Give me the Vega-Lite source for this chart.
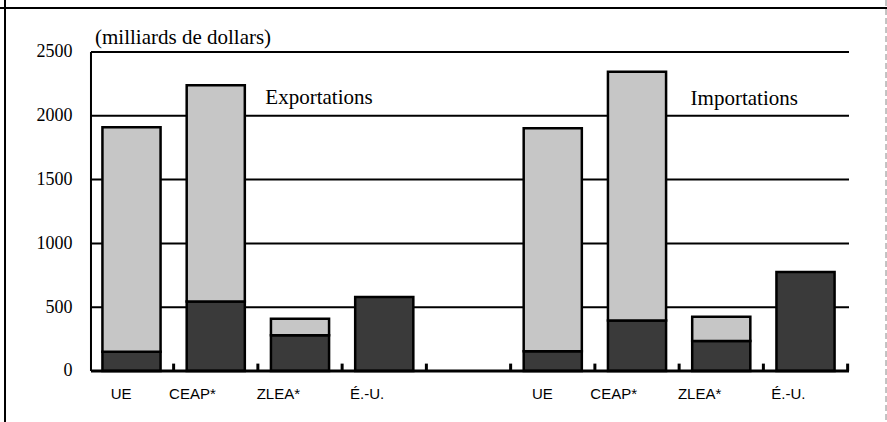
{
  "$schema": "https://vega.github.io/schema/vega-lite/v6.json",
  "width": 887,
  "height": 422,
  "padding": 0,
  "autosize": {"type": "none"},
  "background": "white",
  "config": {
    "view": {"stroke": null},
    "axis": {"labelColor": "black", "tickColor": "black", "domainColor": "black"},
    "rule": {"color": "black", "strokeWidth": 2}
  },
  "datasets": {
    "bars": [
      {"k": "UE|e", "s": "bas", "v": 150},
      {"k": "UE|e", "s": "haut", "v": 1760},
      {"k": "CEAP*|e", "s": "bas", "v": 545},
      {"k": "CEAP*|e", "s": "haut", "v": 1695},
      {"k": "ZLEA*|e", "s": "bas", "v": 280},
      {"k": "ZLEA*|e", "s": "haut", "v": 130},
      {"k": "É.-U.|e", "s": "bas", "v": 580},
      {"k": "UE|i", "s": "bas", "v": 155},
      {"k": "UE|i", "s": "haut", "v": 1748},
      {"k": "CEAP*|i", "s": "bas", "v": 395},
      {"k": "CEAP*|i", "s": "haut", "v": 1950},
      {"k": "ZLEA*|i", "s": "bas", "v": 235},
      {"k": "ZLEA*|i", "s": "haut", "v": 190},
      {"k": "É.-U.|i", "s": "bas", "v": 775}
    ],
    "grid": [{"g": 500}, {"g": 1000}, {"g": 1500}, {"g": 2000}, {"g": 2500}],
    "one": [{}]
  },
  "layer": [
    {
      "data": {"name": "grid"},
      "mark": {"type": "rule"},
      "encoding": {
        "x": {"datum": "UE|e", "bandPosition": -0.197},
        "x2": {"datum": "É.-U.|i", "bandPosition": 1.248},
        "y": {"field": "g", "type": "quantitative", "scale": {"domain": [-399.7, 2907.5], "nice": false, "zero": false}}
      }
    },
    {
      "data": {"name": "bars"},
      "mark": {"type": "bar", "stroke": "black", "strokeWidth": 2.5},
      "encoding": {
        "x": {
          "field": "k",
          "type": "nominal",
          "sort": null,
          "scale": {
            "domain": ["UE|e", "CEAP*|e", "ZLEA*|e", "É.-U.|e", "|g", "UE|i", "CEAP*|i", "ZLEA*|i", "É.-U.|i"],
            "paddingInner": 0.31,
            "paddingOuter": 0.919,
            "align": 0.6615
          },
          "axis": {
            "title": null,
            "orient": "bottom",
            "offset": -51,
            "domain": false,
            "grid": false,
            "ticks": false,
            "labelAngle": 0,
            "labelPadding": 22,
            "labelFont": "Liberation Sans",
            "labelFontSize": 15,
            "labelExpr": "split(datum.value, '|')[0]"
          }
        },
        "y": {
          "field": "v",
          "type": "quantitative",
          "stack": "zero",
          "scale": {"domain": [-399.7, 2907.5], "nice": false, "zero": false},
          "axis": {
            "title": null,
            "orient": "left",
            "offset": -92,
            "values": [0, 500, 1000, 1500, 2000, 2500],
            "format": "d",
            "domain": false,
            "ticks": false,
            "grid": false,
            "labelPadding": 20,
            "labelFont": "Liberation Serif",
            "labelFontSize": 18
          }
        },
        "color": {
          "field": "s",
          "type": "nominal",
          "scale": {"domain": ["bas", "haut"], "range": ["#3a3a3a", "#c6c6c6"]},
          "legend": null
        },
        "order": {"field": "s", "sort": "ascending"}
      }
    },
    {"data": {"name": "one"}, "mark": {"type": "rule", "strokeWidth": 3},
      "encoding": {"x": {"datum": "CEAP*|e", "bandPosition": -0.2247}, "y": {"datum": 0}, "y2": {"datum": 58}}},
    {"data": {"name": "one"}, "mark": {"type": "rule", "strokeWidth": 3},
      "encoding": {"x": {"datum": "ZLEA*|e", "bandPosition": -0.2247}, "y": {"datum": 0}, "y2": {"datum": 58}}},
    {"data": {"name": "one"}, "mark": {"type": "rule", "strokeWidth": 3},
      "encoding": {"x": {"datum": "É.-U.|e", "bandPosition": -0.2247}, "y": {"datum": 0}, "y2": {"datum": 58}}},
    {"data": {"name": "one"}, "mark": {"type": "rule", "strokeWidth": 3},
      "encoding": {"x": {"datum": "|g", "bandPosition": -0.2247}, "y": {"datum": 0}, "y2": {"datum": 58}}},
    {"data": {"name": "one"}, "mark": {"type": "rule", "strokeWidth": 3},
      "encoding": {"x": {"datum": "UE|i", "bandPosition": -0.2247}, "y": {"datum": 0}, "y2": {"datum": 58}}},
    {"data": {"name": "one"}, "mark": {"type": "rule", "strokeWidth": 3},
      "encoding": {"x": {"datum": "CEAP*|i", "bandPosition": -0.2247}, "y": {"datum": 0}, "y2": {"datum": 58}}},
    {"data": {"name": "one"}, "mark": {"type": "rule", "strokeWidth": 3},
      "encoding": {"x": {"datum": "ZLEA*|i", "bandPosition": -0.2247}, "y": {"datum": 0}, "y2": {"datum": 58}}},
    {"data": {"name": "one"}, "mark": {"type": "rule", "strokeWidth": 3},
      "encoding": {"x": {"datum": "É.-U.|i", "bandPosition": -0.2247}, "y": {"datum": 0}, "y2": {"datum": 58}}},
    {"data": {"name": "one"}, "mark": {"type": "rule", "strokeWidth": 3},
      "encoding": {"x": {"datum": "É.-U.|i", "bandPosition": 1.2247}, "y": {"datum": 0}, "y2": {"datum": 58}}},
    {
      "data": {"name": "one"},
      "mark": {"type": "rule", "strokeWidth": 3},
      "encoding": {
        "x": {"datum": "UE|e", "bandPosition": -0.197},
        "x2": {"datum": "É.-U.|i", "bandPosition": 1.248},
        "y": {"datum": 0}
      }
    },
    {
      "data": {"name": "one"},
      "mark": {"type": "rule"},
      "encoding": {
        "x": {"datum": "UE|e", "bandPosition": -0.197},
        "y": {"datum": 0},
        "y2": {"datum": 2500}
      }
    },
    {
      "data": {"name": "one"},
      "mark": {"type": "rule"},
      "encoding": {"y": {"datum": 2845}}
    },
    {
      "data": {"name": "one"},
      "mark": {"type": "rule"},
      "encoding": {"x": {"datum": "UE|e", "bandPosition": -1.676}}
    },
    {
      "data": {"name": "one"},
      "mark": {"type": "rule", "color": "#b0b0b0", "strokeWidth": 1.5, "strokeDash": [6, 3]},
      "encoding": {"x": {"datum": "É.-U.|i", "bandPosition": 1.885}}
    },
    {
      "data": {"name": "one"},
      "mark": {"type": "text", "align": "left", "baseline": "middle", "font": "Liberation Serif", "fontSize": 21, "color": "black"},
      "encoding": {
        "x": {"datum": "UE|e", "bandPosition": -0.128},
        "y": {"datum": 2610},
        "text": {"value": "(milliards de dollars)"}
      }
    },
    {
      "data": {"name": "one"},
      "mark": {"type": "text", "align": "center", "baseline": "middle", "font": "Liberation Serif", "fontSize": 21, "color": "black", "dx": 19},
      "encoding": {
        "x": {"datum": "ZLEA*|e"},
        "y": {"datum": 2140},
        "text": {"value": "Exportations"}
      }
    },
    {
      "data": {"name": "one"},
      "mark": {"type": "text", "align": "center", "baseline": "middle", "font": "Liberation Serif", "fontSize": 21, "color": "black", "dx": 23},
      "encoding": {
        "x": {"datum": "ZLEA*|i"},
        "y": {"datum": 2130},
        "text": {"value": "Importations"}
      }
    }
  ]
}
